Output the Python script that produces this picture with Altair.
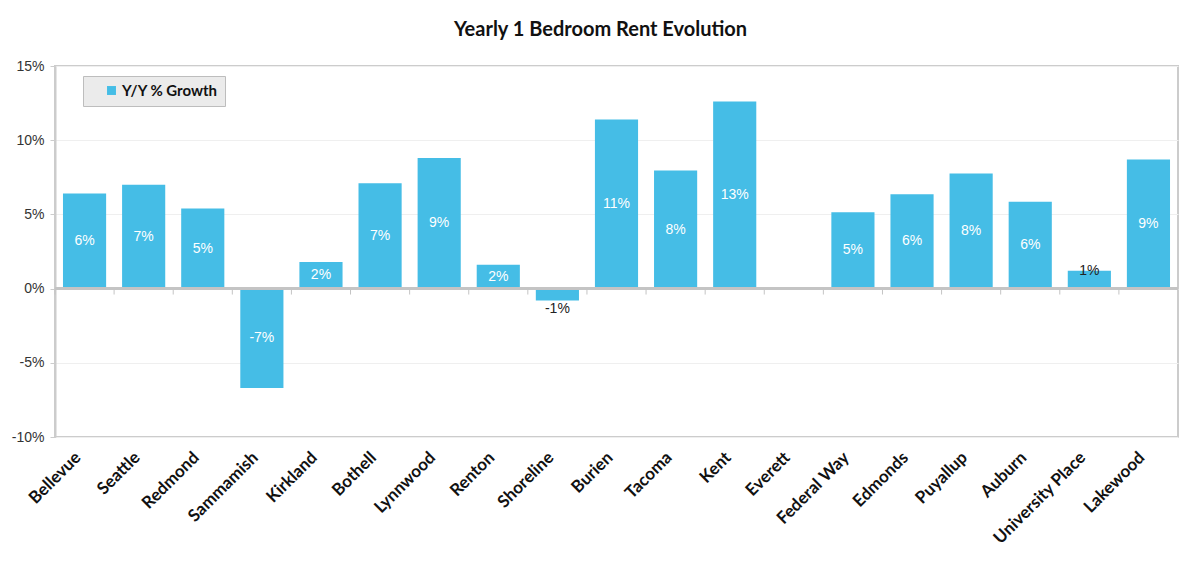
import altair as alt
import pandas as pd

cities = ["Bellevue", "Seattle", "Redmond", "Sammamish", "Kirkland", "Bothell",
          "Lynnwood", "Renton", "Shoreline", "Burien", "Tacoma", "Kent", "Everett",
          "Federal Way", "Edmonds", "Puyallup", "Auburn", "University Place", "Lakewood"]
growth = [6.4, 7.0, 5.4, -6.7, 1.8, 7.1, 8.8, 1.6, -0.8, 11.4, 7.95, 12.6, None,
          5.15, 6.35, 7.75, 5.85, 1.2, 8.7]
series_name = "Y/Y % Growth"
y_ticks = [-10, -5, 0, 5, 10, 15]

df = pd.DataFrame({"city": cities, "value": growth})

BLUE = "#45bde6"
GRAY = "#cccccc"

base = alt.Chart(df).transform_calculate(
    series=f"'{series_name}'",
    label="toString(round(datum.value)) + '%'",
    mid="datum.value / 2",
)

xenc = alt.X("city:N", sort=cities, scale=alt.Scale(domain=cities, paddingInner=0, paddingOuter=0),
             axis=alt.Axis(title=None, labelAngle=-45, labelFont="Lato", labelFontWeight="bold",
                           labelFontSize=17, labelColor="#111111", ticks=False, domain=False,
                           labelPadding=12, labelLimit=250, labelOffset=-12))
yscale = alt.Scale(domain=[-10, 15], nice=False, zero=False)

bars = base.mark_bar(width=alt.RelativeBandSize(0.73)).encode(
    x=xenc,
    y=alt.Y("value:Q", scale=yscale,
            axis=alt.Axis(title=None, values=y_ticks, labelExpr="datum.value + '%'",
                          labelFont="Liberation Sans", labelFontSize=14, labelColor="#333333",
                          grid=True, gridColor="#efefef", domainColor=GRAY, domainWidth=2,
                          tickColor=GRAY, tickSize=5, labelPadding=6)),
    color=alt.Color("series:N", scale=alt.Scale(range=[BLUE]),
                    legend=alt.Legend(title=None, orient="none", legendX=28, legendY=10,
                                      fillColor="#ebebeb", strokeColor="#bdbdbd",
                                      padding=7, symbolType="square", symbolSize=80,
                                      symbolOffset=14, labelFont="Lato", labelFontWeight="bold",
                                      labelFontSize=15, labelColor="#111111", labelOffset=3)),
)

zero = base.mark_rule(color="#c4c4c4", strokeWidth=2).encode(y=alt.datum(0))

ticks = base.mark_rule(color="#c4c4c4", strokeWidth=1).encode(
    x=alt.X("city:N", sort=cities, bandPosition=0),
    y=alt.datum(0),
    y2=alt.datum(-0.4),
)

inside = base.transform_filter("abs(datum.value) >= 1.5").mark_text(
    color="white", font="Liberation Sans", fontSize=14, baseline="middle"
).encode(x=alt.X("city:N", sort=cities), y=alt.Y("mid:Q"), text="label:N")

small_pos = base.transform_filter("datum.value > 0 && datum.value < 1.5").mark_text(
    color="#222222", font="Liberation Sans", fontSize=14, baseline="middle"
).encode(x=alt.X("city:N", sort=cities), y=alt.Y("value:Q"), text="label:N")

small_neg = base.transform_filter("datum.value < 0 && datum.value > -1.5").mark_text(
    color="#222222", font="Liberation Sans", fontSize=14, baseline="top", dy=2
).encode(x=alt.X("city:N", sort=cities), y=alt.Y("value:Q"), text="label:N")

chart = alt.layer(bars, zero, ticks, inside, small_pos, small_neg).properties(
    width=1123, height=371,
    title=alt.TitleParams("Yearly 1 Bedroom Rent Evolution", font="Lato", fontSize=20,
                          fontWeight="bold", color="#111111", anchor="middle", dx=-16, offset=19),
    autosize=alt.AutoSizeParams(type="none"),
    padding={"left": 55, "top": 66, "right": 22, "bottom": 125},
).configure_view(stroke=GRAY, strokeWidth=2)

chart.save("out.html", embed_options={"renderer": "svg", "actions": False})
